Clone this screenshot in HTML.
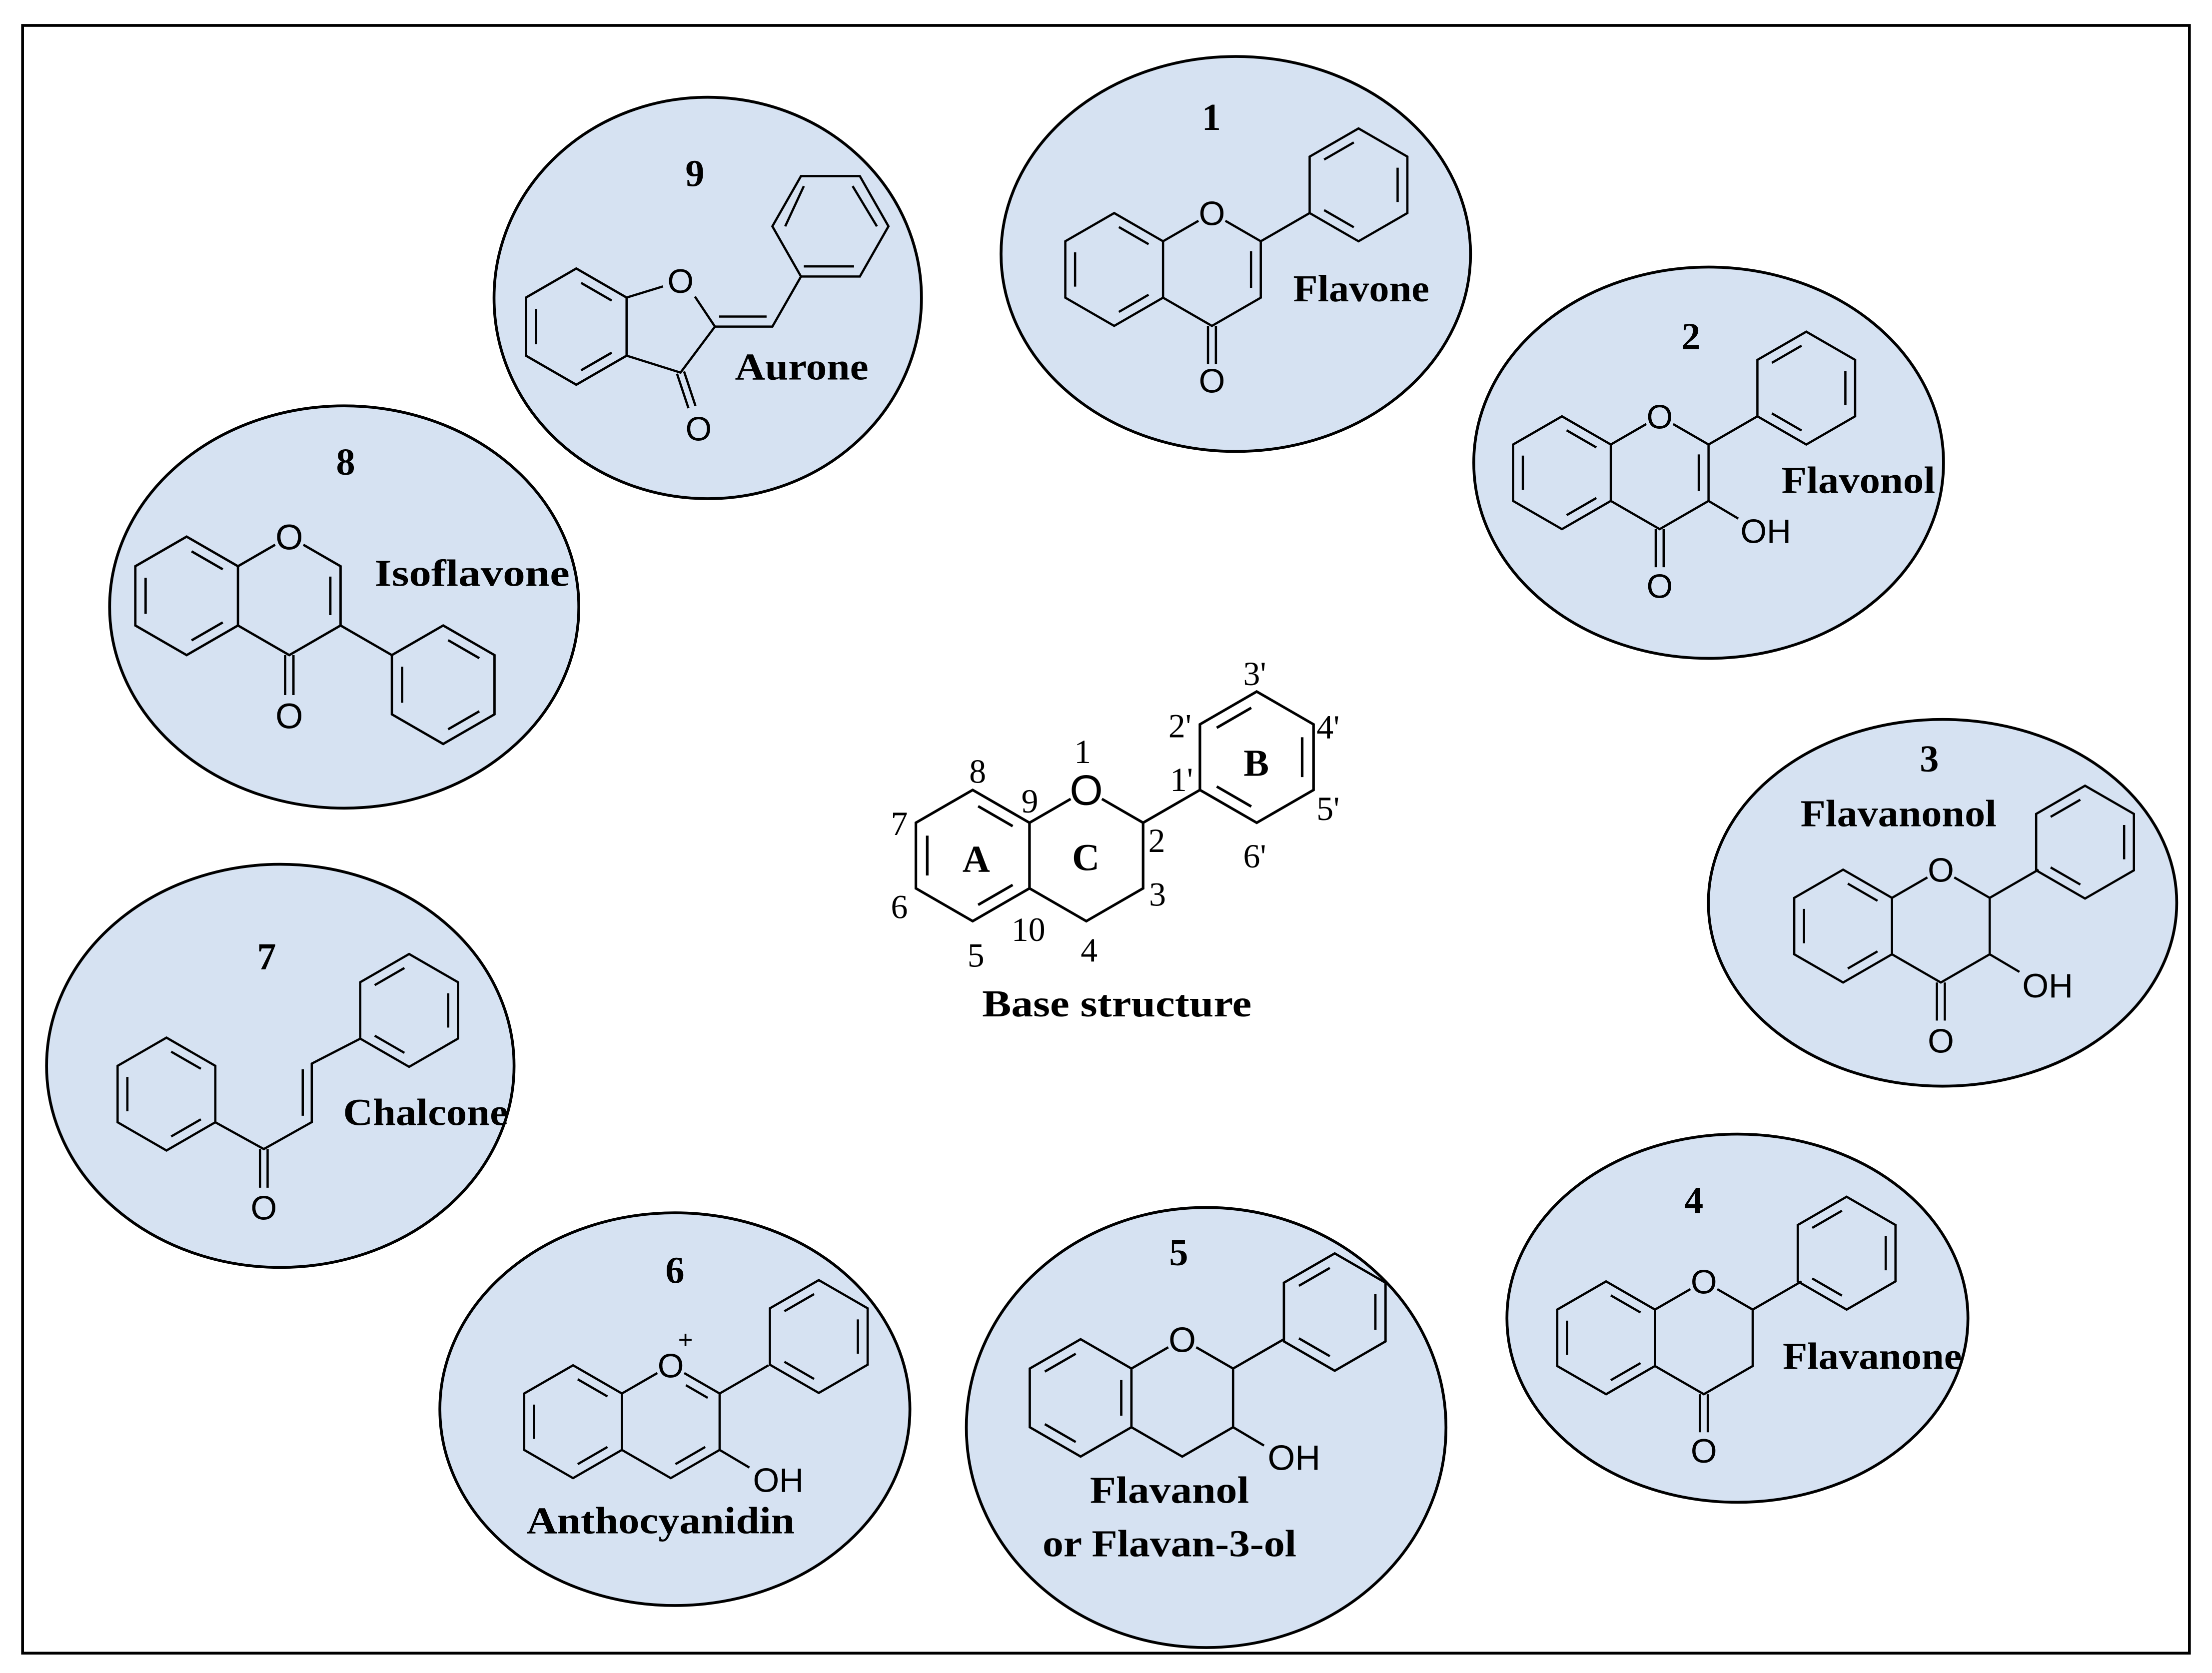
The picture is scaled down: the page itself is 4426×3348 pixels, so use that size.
<!DOCTYPE html>
<html><head><meta charset="utf-8"><style>
html,body{margin:0;padding:0;background:#fff;}
svg{display:block;}
.o{font-family:"Liberation Sans",sans-serif;font-size:24px;text-anchor:middle;fill:#000;}
.oh{font-family:"Liberation Sans",sans-serif;font-size:24px;fill:#000;}
.num{font-family:"Liberation Serif",serif;font-weight:bold;font-size:27px;text-anchor:middle;fill:#000;}
.nm{font-family:"Liberation Serif",serif;font-weight:bold;font-size:27px;fill:#000;}
.bl{font-family:"Liberation Serif",serif;font-size:24px;text-anchor:middle;fill:#000;}
.bb{font-family:"Liberation Serif",serif;font-weight:bold;font-size:27px;text-anchor:middle;fill:#000;}
</style></head><body>
<svg width="4426" height="3348" viewBox="0 0 1568 1186" xmlns="http://www.w3.org/2000/svg">
<defs>
<polygon id="hex" points="0,-40 34.64,-20 34.64,20 0,40 -34.64,20 -34.64,-20" fill="none" stroke="#000" stroke-width="1.6" stroke-linejoin="miter"/>
<path id="k1" d="M-24.39,-17.92 L-3.33,-30.08 M27.71,-12.16 L27.71,12.16 M-3.33,30.08 L-24.39,17.92" fill="none" stroke="#000" stroke-width="1.6"/>
<path id="k2" d="M-27.71,12.16 L-27.71,-12.16 M3.33,-30.08 L24.39,-17.92 M24.39,17.92 L3.33,30.08" fill="none" stroke="#000" stroke-width="1.6"/>
<path id="ringc" d="M34.64,-20 L59.75,-34.5 M78.81,-34.5 L103.92,-20 L103.92,20 L69.28,40 L34.64,20" fill="none" stroke="#000" stroke-width="1.6" stroke-linejoin="miter"/>
<path id="carb" d="M66.5,40 L66.5,67 M72.1,40 L72.1,67" fill="none" stroke="#000" stroke-width="1.6"/>
<path id="ph2" d="M103.92,-20 L138.56,-40" fill="none" stroke="#000" stroke-width="1.6"/>
<path id="dbl23" d="M97,-13 L97,13" fill="none" stroke="#000" stroke-width="1.6"/>
<path id="oh3" d="M103.92,20 L125,32.5" fill="none" stroke="#000" stroke-width="1.6"/>
</defs>
<rect x="0" y="0" width="1568" height="1186" fill="#fff"/>
<rect x="16" y="18" width="1536" height="1154" fill="none" stroke="#000" stroke-width="2"/>

<g fill="#d6e2f2" stroke="#000" stroke-width="2">
<ellipse cx="876" cy="180" rx="166.4" ry="140"/>
<ellipse cx="1211.2" cy="328" rx="166.5" ry="138.7"/>
<ellipse cx="501.7" cy="211.2" rx="151.5" ry="142.3"/>
<ellipse cx="244" cy="430.3" rx="166.3" ry="142.6"/>
<ellipse cx="1377" cy="640" rx="166" ry="130"/>
<ellipse cx="198.7" cy="755.6" rx="165.7" ry="142.9"/>
<ellipse cx="1231.6" cy="934.5" rx="163.4" ry="130.5"/>
<ellipse cx="855" cy="1012" rx="170" ry="156"/>
<ellipse cx="478.4" cy="999" rx="166.6" ry="139.2"/>
</g>

<!-- 1 Flavone -->
<g transform="translate(789.8,191)">
<use href="#hex"/><use href="#k2"/><use href="#ringc"/><use href="#dbl23"/><use href="#carb"/><use href="#ph2"/>
<use href="#hex" x="173.2" y="-60"/><use href="#k1" x="173.2" y="-60"/>
<text class="o" x="69.28" y="-31.4">O</text><text class="o" x="69.28" y="87.3">O</text>
</g>
<text class="num" x="858.7" y="92">1</text>
<text class="nm" x="916.7" y="213.6" textLength="96.5" lengthAdjust="spacingAndGlyphs">Flavone</text>

<!-- 2 Flavonol -->
<g transform="translate(1107.2,335.1)">
<use href="#hex"/><use href="#k2"/><use href="#ringc"/><use href="#dbl23"/><use href="#carb"/><use href="#ph2"/><use href="#oh3"/>
<use href="#hex" x="173.2" y="-60"/><use href="#k1" x="173.2" y="-60"/>
<text class="o" x="69.28" y="-31.4">O</text><text class="o" x="69.28" y="88.8">O</text>
<text class="oh" x="126.5" y="49.7">OH</text>
</g>
<text class="num" x="1198.6" y="247.5">2</text>
<text class="nm" x="1262.8" y="349.5" textLength="109" lengthAdjust="spacingAndGlyphs">Flavonol</text>

<!-- 3 Flavanonol -->
<g transform="translate(1306.5,656.5)">
<use href="#hex"/><use href="#k2"/><use href="#ringc"/><use href="#carb"/><use href="#ph2"/><use href="#oh3"/>
<use href="#hex" x="171.5" y="-59.5"/><use href="#k1" x="171.5" y="-59.5"/>
<text class="o" x="69.28" y="-31.4">O</text><text class="o" x="69.28" y="89.8">O</text>
<text class="oh" x="127" y="50.5">OH</text>
</g>
<text class="num" x="1367.6" y="547">3</text>
<text class="nm" x="1276.3" y="585.8" textLength="139" lengthAdjust="spacingAndGlyphs">Flavanonol</text>

<!-- 4 Flavanone -->
<g transform="translate(1138.5,948.4)">
<use href="#hex"/><use href="#k2"/><use href="#ringc"/><use href="#carb"/><use href="#ph2"/>
<use href="#hex" x="170.5" y="-60"/><use href="#k1" x="170.5" y="-60"/>
<text class="o" x="69.28" y="-31.4">O</text><text class="o" x="69.28" y="88.5">O</text>
</g>
<text class="num" x="1200.7" y="860">4</text>
<text class="nm" x="1263.7" y="970.5" textLength="127" lengthAdjust="spacingAndGlyphs">Flavanone</text>

<!-- 5 Flavanol -->
<g transform="translate(766,991) scale(1.04)">
<use href="#hex"/><use href="#k1"/><use href="#ringc"/><use href="#ph2"/><use href="#oh3"/>
<use href="#hex" x="173.2" y="-58.5"/><use href="#k1" x="173.2" y="-58.5"/>
<text class="o" x="69.28" y="-31.4">O</text>
<text class="oh" x="127.5" y="49">OH</text>
</g>
<text class="num" x="835.5" y="897">5</text>
<text class="nm" x="772.6" y="1065.4" textLength="112.8" lengthAdjust="spacingAndGlyphs">Flavanol</text>
<text class="nm" x="739" y="1103.3" textLength="180" lengthAdjust="spacingAndGlyphs">or Flavan-3-ol</text>

<!-- 6 Anthocyanidin -->
<g transform="translate(406.2,1007.9)">
<use href="#hex"/><use href="#k2"/><use href="#ringc"/><use href="#ph2"/><use href="#oh3"/>
<path d="M80,-25.9 L95.5,-16.9 M93.7,17.9 L72.6,30.1" fill="none" stroke="#000" stroke-width="1.6"/>
<use href="#hex" x="174.2" y="-60.4"/><use href="#k1" x="174.2" y="-60.4"/>
<text class="o" x="69.28" y="-31.4">O</text>
<text class="o" x="79.7" y="-52" style="font-size:18px">+</text>
<text class="oh" x="127.5" y="49.7">OH</text>
</g>
<text class="num" x="478.4" y="909.5">6</text>
<text class="nm" x="373.3" y="1087" textLength="190" lengthAdjust="spacingAndGlyphs">Anthocyanidin</text>

<!-- 7 Chalcone -->
<g fill="none" stroke="#000" stroke-width="1.6">
<use href="#hex" x="118" y="775.6"/><use href="#k2" x="118" y="775.6"/>
<use href="#hex" x="290" y="716.3"/><use href="#k1" x="290" y="716.3"/>
<path d="M152.64,795.6 L187,814.6 L221,795.5 L221,754 L255.4,736.3 M214.6,758 L214.6,791 M184.3,814.6 L184.3,842 M189.7,814.6 L189.7,842"/>
</g>
<text class="o" x="187" y="864.6">O</text>
<text class="num" x="189" y="687">7</text>
<text class="nm" x="243.2" y="797.6" textLength="117" lengthAdjust="spacingAndGlyphs">Chalcone</text>

<!-- 8 Isoflavone -->
<g transform="translate(132.3,422.4) scale(1.05)">
<use href="#hex"/><use href="#k2"/><use href="#ringc"/><use href="#dbl23"/><use href="#carb"/>
<path d="M103.92,20 L138.56,40" fill="none" stroke="#000" stroke-width="1.6"/>
<use href="#hex" x="173.2" y="60"/><use href="#k2" x="173.2" y="60"/>
<text class="o" x="69.28" y="-31.4">O</text><text class="o" x="69.28" y="89.5">O</text>
</g>
<text class="num" x="245" y="336.5">8</text>
<text class="nm" x="265.4" y="415.4" textLength="138.4" lengthAdjust="spacingAndGlyphs">Isoflavone</text>

<!-- 9 Aurone -->
<g transform="translate(408.5,231.5) scale(1.03)"><use href="#hex"/><use href="#k2"/></g>
<g fill="none" stroke="#000" stroke-width="1.6" stroke-linejoin="miter">
<path d="M444.2,210.9 L470,203 M492.6,210.2 L506.8,231.5 L482.4,264.1 L444.2,252.1"/>
<path d="M479.9,264.9 L488,289.3 M484.9,263.3 L493,287.7"/>
<path d="M506.8,231.5 L547.5,231.5 L567.8,196 M509.8,224.4 L543.4,224.4"/>
<polygon points="567.8,196 547.5,160.4 567.8,124.8 609.5,124.8 629.8,160.4 609.5,196"/>
<path d="M556.6,160.4 L569.8,131.9 M604.4,131.9 L621.6,160.4 M569.8,188.8 L605.4,188.8"/>
</g>
<text class="o" x="482.4" y="207.6">O</text>
<text class="o" x="495.2" y="312.3">O</text>
<text class="num" x="492.6" y="132">9</text>
<text class="nm" x="521" y="269.1" textLength="94.6" lengthAdjust="spacingAndGlyphs">Aurone</text>

<!-- Base structure -->
<g transform="translate(689.5,606.5) scale(1.1625)">
<use href="#hex"/><use href="#k2"/><use href="#ringc"/><use href="#ph2"/>
<use href="#hex" x="173.2" y="-60"/><use href="#k1" x="173.2" y="-60"/>
<text class="o" x="69.28" y="-31" style="font-size:26px">O</text>
</g>
<text class="bl" x="767.4" y="541">1</text>
<text class="bl" x="693" y="555">8</text>
<text class="bl" x="730" y="576">9</text>
<text class="bl" x="637.5" y="592">7</text>
<text class="bl" x="820" y="604">2</text>
<text class="bl" x="837.5" y="560.7">1'</text>
<text class="bl" x="836.4" y="522.7">2'</text>
<text class="bl" x="889.4" y="485.7">3'</text>
<text class="bl" x="941.4" y="523.6">4'</text>
<text class="bl" x="941.4" y="581.4">5'</text>
<text class="bl" x="889.4" y="614.9">6'</text>
<text class="bl" x="820.5" y="642">3</text>
<text class="bl" x="637.5" y="651">6</text>
<text class="bl" x="729" y="667">10</text>
<text class="bl" x="691.8" y="685.3">5</text>
<text class="bl" x="772" y="681.7">4</text>
<text class="bb" x="692" y="618">A</text>
<text class="bb" x="769.7" y="617">C</text>
<text class="bb" x="890.5" y="550">B</text>
<text class="bb" x="791.7" y="720.5" textLength="191" lengthAdjust="spacingAndGlyphs" style="text-anchor:middle">Base structure</text>
</svg>
</body></html>
